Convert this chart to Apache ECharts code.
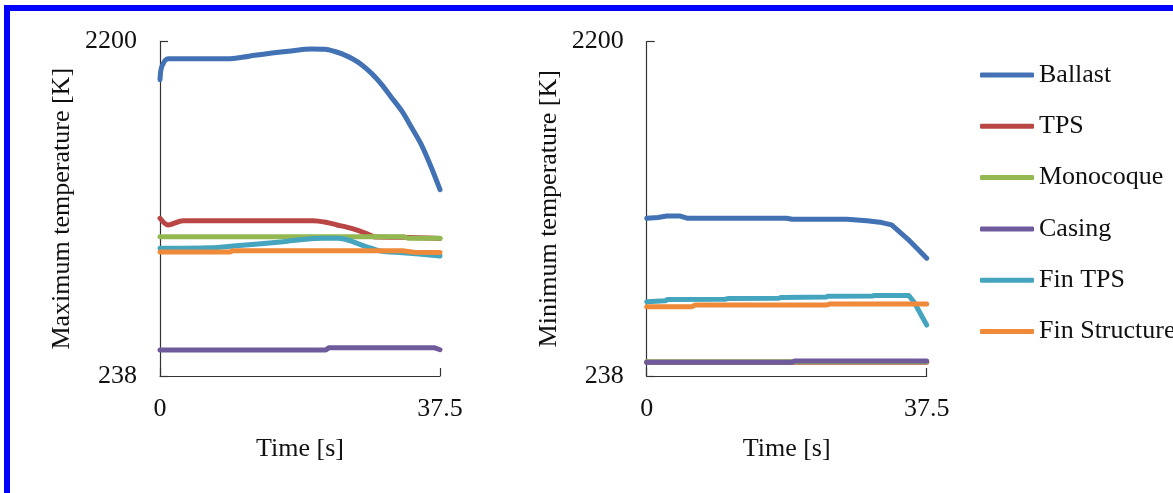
<!DOCTYPE html>
<html>
<head>
<meta charset="utf-8">
<script src="https://cdn.jsdelivr.net/npm/echarts@6/dist/echarts.min.js"></script>
<style>
html,body{margin:0;padding:0;background:#fff;}
#chart{width:1173px;height:493px;}
</style>
</head>
<body>
<div id="chart"></div>
<script>
// ---- data (time [s], temperature [K]) ----
const seriesNames = ['Ballast', 'TPS', 'Monocoque', 'Casing', 'Fin TPS', 'Fin Structure'];
const yTicks = [238, 2200];
const xTicks = [0, 37.5];

// Maximum temperature
const maxBallast = [[0,1976],[0.25,2054],[1.1,2099],[9.2,2099],[11,2108],[12.7,2119],[15,2132],[17.2,2143],[20.3,2156],[22.1,2154],[23.3,2143],[24.3,2129],[25.7,2100],[27.0,2064],[28.4,2010],[29.7,1947],[31.0,1872],[32.4,1791],[33.7,1695],[35.0,1595],[36.3,1465],[37.5,1331]];
const maxTPS = [[0,1163],[1.07,1124],[3.1,1149],[20.5,1149],[22.2,1140],[23.7,1124],[25.1,1110],[26.4,1094],[28.1,1065],[28.8,1053],[32.5,1052],[37.5,1045]];
const maxMonocoque = [[0,1055],[32.6,1055],[33.2,1046],[37.5,1046]];
const maxCasing = [[0,390],[22.2,390],[22.6,403],[36.8,403],[37.5,392]];
const maxFinTPS = [[0,987],[6.7,990],[9.8,1000],[16.5,1026],[19.5,1040],[21.8,1046],[23.7,1046],[24.8,1040],[25.8,1026],[27.7,996],[29.5,971],[32.5,961],[37.5,942]];
const maxFinStructure = [[0,966],[9.4,966],[9.8,973],[32.5,973],[34,964],[37.5,962]];

// Minimum temperature
const minBallast = [[0,1163],[1.5,1168],[2.7,1176],[4.5,1176],[5.5,1163],[18.7,1163],[19.5,1157],[26.8,1157],[29.5,1149],[31.5,1138],[32.8,1124],[35.0,1040],[37.5,929]];
const minTPS = [[0,318],[37.5,318]];
const minMonocoque = [[0,322],[37.5,322]];
const minCasing = [[0,318],[19.4,318],[19.8,326],[37.5,326]];
const minFinTPS = [[0,674],[2.5,680],[2.8,686],[10.5,688],[11,693],[17.7,694],[18,699],[24,701],[24.3,706],[30.2,707],[30.5,710],[35.1,710],[35.8,672],[37.5,537]];
const minFinStructure = [[0,644],[6,644],[6.5,654],[24,654],[24.5,660],[37.5,660]];

const colors = ['#4272B4', '#B94645', '#93B852', '#6F5B9C', '#45A5BE', '#EE8A3A'];
const font = "'Liberation Serif', 'Times New Roman', serif";
const txt = '#111';

const chart = echarts.init(document.getElementById('chart'), null, {renderer: 'canvas'});

function xAxis(gridIndex) {
  return {
    type: 'value', gridIndex, min: 0, max: 37.5,
    name: 'Time [s]', nameLocation: 'middle', nameGap: 60,
    nameTextStyle: {fontFamily: font, fontSize: 26, color: txt},
    axisLine: {show: true, lineStyle: {color: '#333', width: 1.2}},
    axisTick: {show: true, inside: true, length: 8, customValues: xTicks, lineStyle: {color: '#333', width: 1.2}},
    axisLabel: {customValues: xTicks, fontFamily: font, fontSize: 26, color: txt, margin: 20,
      formatter: v => String(v)},
    splitLine: {show: false}
  };
}
function yAxis(gridIndex, name) {
  return {
    type: 'value', gridIndex, min: 238, max: 2200,
    name, nameLocation: 'middle', nameGap: 85,
    nameTextStyle: {fontFamily: font, fontSize: 26, color: txt},
    axisLine: {show: true, lineStyle: {color: '#333', width: 1.2}},
    axisTick: {show: true, inside: true, length: 8, customValues: yTicks, lineStyle: {color: '#333', width: 1.2}},
    axisLabel: {customValues: yTicks, fontFamily: font, fontSize: 26, color: txt, margin: 23,
      formatter: v => String(v)},
    splitLine: {show: false}
  };
}

const maxData = [maxBallast, maxTPS, maxMonocoque, maxCasing, maxFinTPS, maxFinStructure];
const minData = [minBallast, minTPS, minMonocoque, minCasing, minFinTPS, minFinStructure];
const smoothMax = [0.3, 0.3, false, false, 0.3, false];

const series = [];
[maxData, minData].forEach((set, gi) => {
  set.forEach((d, i) => {
    series.push({
      name: seriesNames[i], type: 'line', xAxisIndex: gi, yAxisIndex: gi,
      data: d, showSymbol: false, symbol: 'none',
      smooth: gi === 0 ? smoothMax[i] : false,
      lineStyle: {color: colors[i], width: 5, cap: 'round', join: 'round'},
      itemStyle: {color: colors[i]},
      animation: false
    });
  });
});

chart.setOption({
  backgroundColor: '#fff',
  animation: false,
  grid: [
    {left: 160, top: 41.5, width: 280, height: 334.5},
    {left: 646.7, top: 41.5, width: 280, height: 334.5}
  ],
  xAxis: [xAxis(0), xAxis(1)],
  yAxis: [yAxis(0, 'Maximum temperature [K]'), yAxis(1, 'Minimum temperature [K]')],
  legend: {
    data: seriesNames, orient: 'vertical', left: 980, top: 62, padding: 0,
    icon: 'roundRect', itemWidth: 54, itemHeight: 5, itemGap: 25.3, itemTextGap: 3,
    textStyle: {fontFamily: font, fontSize: 26, color: txt, lineHeight: 26},
    selectedMode: false
  },
  graphic: [
    {type: 'rect', shape: {x: 4, y: 5, width: 1175, height: 6}, style: {fill: '#0000FF'}, z: 100},
    {type: 'rect', shape: {x: 4, y: 5, width: 6, height: 500}, style: {fill: '#0000FF'}, z: 100}
  ],
  series
});
</script>
</body>
</html>
